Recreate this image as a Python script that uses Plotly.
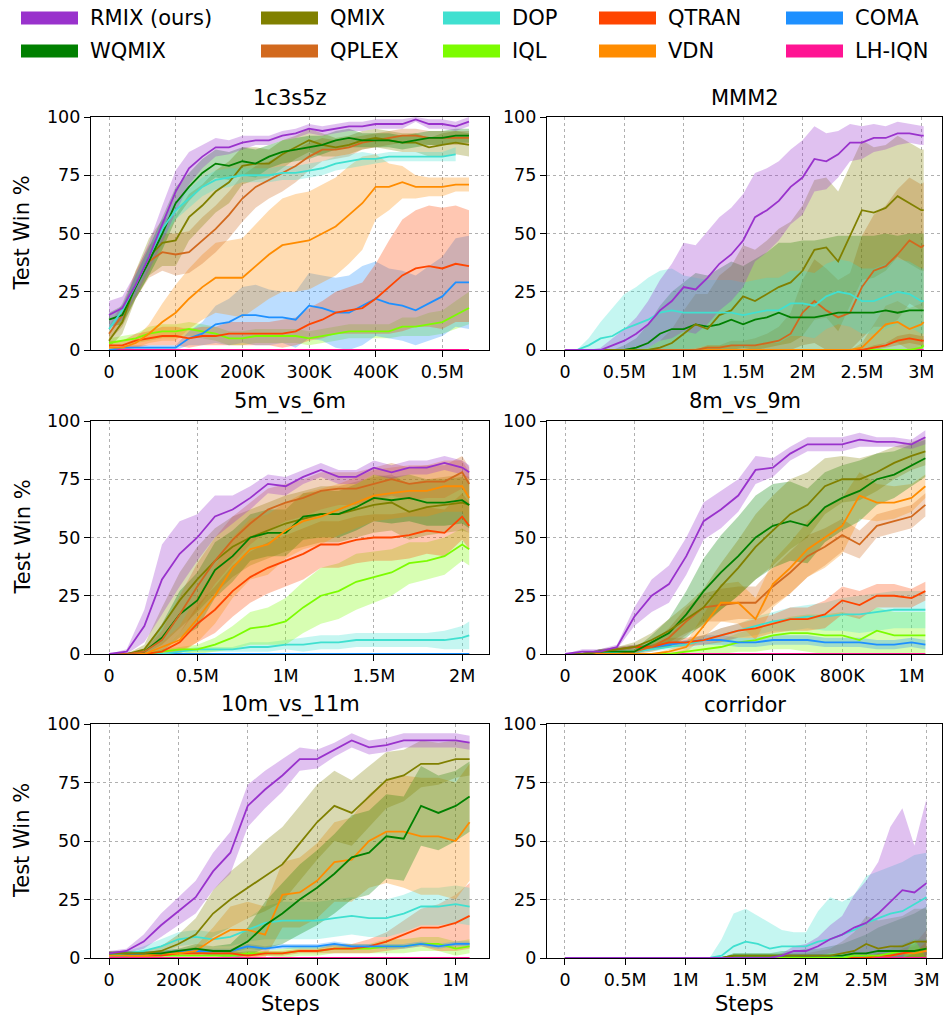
import plotly.graph_objects as go

W, H = 943, 1020
FONT = "DejaVu Sans"

METHODS = ["RMIX (ours)", "WQMIX", "QMIX", "QPLEX", "DOP", "IQL", "QTRAN", "VDN", "COMA", "LH-IQN"]
COLORS = ["#9932CC", "#008000", "#808000", "#D2691E", "#40E0D0", "#7CFC00", "#FF4500", "#FF8C00", "#1E90FF", "#FF1493"]

TITLES = ["1c3s5z", "MMM2", "5m_vs_6m", "8m_vs_9m", "10m_vs_11m", "corridor"]

# ---------------- 1c3s5z (steps in thousands) ----------------
X_1C3S5Z = [0, 20, 40, 60, 80, 100, 120, 140, 160, 180, 200, 220, 240, 260, 280, 300, 320, 340, 360, 380, 400, 420, 440, 460, 480, 500, 520, 540]
RMIX_1C3S5Z = [15, 18, 28, 40, 54, 68, 78, 83, 87, 87, 89, 90, 90, 92, 93, 95, 94, 95, 96, 96, 97, 97, 97, 99, 97, 97, 96, 98]
RMIX_1C3S5Z_SD = [6, 5, 5, 6, 8, 9, 7, 5, 4, 3, 3, 2, 2, 2, 2, 2, 2, 2, 2, 2, 2, 2, 2, 1, 2, 2, 2, 2]
WQMIX_1C3S5Z = [13, 15, 27, 38, 50, 63, 70, 76, 80, 79, 81, 80, 83, 85, 86, 87, 88, 90, 91, 90, 90, 90, 89, 90, 91, 91, 92, 92]
WQMIX_1C3S5Z_SD = [3, 4, 5, 6, 7, 7, 6, 6, 6, 6, 6, 6, 5, 5, 5, 5, 4, 4, 4, 3, 3, 3, 3, 3, 3, 3, 3, 3]
QMIX_1C3S5Z = [4, 12, 28, 40, 46, 47, 57, 62, 68, 72, 79, 80, 80, 84, 87, 90, 88, 87, 88, 90, 91, 90, 89, 89, 87, 88, 89, 88]
QMIX_1C3S5Z_SD = [3, 5, 6, 8, 10, 11, 10, 9, 9, 9, 8, 7, 6, 6, 5, 5, 5, 4, 4, 4, 4, 4, 4, 4, 4, 5, 5, 5]
QPLEX_1C3S5Z = [7, 15, 28, 38, 42, 41, 42, 47, 52, 58, 65, 70, 73, 76, 79, 83, 86, 86, 87, 89, 90, 91, 92, 92, 91, 91, 91, 91]
QPLEX_1C3S5Z_SD = [3, 5, 6, 7, 8, 9, 9, 10, 10, 10, 10, 9, 8, 8, 7, 6, 5, 4, 4, 3, 3, 3, 3, 3, 3, 3, 3, 3]
DOP_1C3S5Z = [9, 17, 28, 40, 52, 60, 65, 70, 73, 74, 75, 75, 75, 76, 76, 77, 78, 80, 81, 82, 82, 83, 83, 83, 83, 83, 84]
DOP_1C3S5Z_SD = [2, 3, 4, 4, 4, 4, 4, 4, 4, 4, 3, 3, 3, 3, 3, 3, 3, 3, 3, 3, 2, 2, 2, 2, 2, 2, 3]
IQL_1C3S5Z = [3, 4, 5, 7, 8, 8, 9, 8, 7, 5, 5, 6, 6, 6, 6, 5, 6, 7, 8, 8, 8, 8, 10, 10, 11, 12, 15, 18]
IQL_1C3S5Z_SD = [2, 2, 2, 3, 3, 3, 3, 3, 3, 3, 3, 3, 3, 3, 3, 3, 3, 3, 3, 3, 3, 3, 4, 4, 5, 5, 6, 7]
QTRAN_1C3S5Z = [2, 2, 4, 5, 6, 6, 5, 6, 6, 7, 7, 7, 7, 7, 8, 11, 13, 16, 17, 18, 22, 27, 32, 35, 36, 35, 37, 36]
QTRAN_1C3S5Z_SD = [2, 2, 3, 3, 4, 4, 4, 4, 4, 5, 5, 5, 5, 6, 6, 7, 8, 9, 10, 11, 15, 20, 24, 25, 26, 26, 25, 24]
VDN_1C3S5Z = [1, 1, 3, 7, 12, 16, 22, 27, 31, 31, 31, 36, 41, 45, 46, 47, 50, 53, 58, 63, 70, 70, 72, 70, 70, 70, 71, 71]
VDN_1C3S5Z_SD = [1, 1, 2, 4, 8, 12, 13, 14, 15, 16, 17, 18, 19, 20, 21, 21, 21, 21, 21, 20, 14, 10, 7, 5, 4, 4, 3, 3]
COMA_1C3S5Z = [0, 1, 1, 1, 1, 1, 5, 7, 11, 12, 15, 15, 14, 14, 13, 19, 18, 16, 16, 19, 22, 20, 19, 17, 20, 23, 29, 29]
COMA_1C3S5Z_SD = [0, 1, 1, 1, 1, 1, 3, 5, 8, 10, 12, 13, 12, 11, 12, 14, 14, 15, 16, 17, 16, 15, 15, 15, 16, 17, 19, 20]
LHIQN_1C3S5Z = [0, 0, 0, 0, 0, 0, 0, 0, 0, 0, 0, 0, 0, 0, 0, 0, 0, 0, 0, 0, 0, 0, 0, 0, 0, 0, 0, 0]
LHIQN_1C3S5Z_SD = [0, 0, 0, 0, 0, 0, 0, 0, 0, 0, 0, 0, 0, 0, 0, 0, 0, 0, 0, 0, 0, 0, 0, 0, 0, 0, 0, 0]

# ---------------- MMM2 ----------------
X_MMM2 = [0, 100, 200, 300, 400, 500, 600, 700, 800, 900, 1000, 1100, 1200, 1300, 1400, 1500, 1600, 1700, 1800, 1900, 2000, 2100, 2200, 2300, 2400, 2500, 2600, 2700, 2800, 2900, 3000, 3020]
RMIX_MMM2 = [0, 0, 0, 0, 2, 4, 7, 11, 17, 21, 27, 26, 31, 37, 41, 47, 57, 60, 64, 70, 74, 82, 81, 84, 89, 89, 91, 91, 93, 93, 92, 92]
RMIX_MMM2_SD = [0, 0, 0, 1, 3, 5, 7, 10, 13, 16, 19, 19, 20, 20, 20, 20, 19, 18, 17, 16, 16, 14, 12, 10, 8, 7, 6, 5, 5, 4, 4, 4]
WQMIX_MMM2 = [0, 0, 0, 0, 0, 0, 1, 3, 7, 9, 9, 11, 10, 11, 13, 11, 13, 14, 16, 14, 14, 14, 15, 16, 16, 16, 16, 17, 16, 17, 17, 17]
WQMIX_MMM2_SD = [0, 0, 0, 0, 0, 2, 4, 8, 12, 16, 20, 22, 22, 24, 25, 25, 26, 28, 30, 32, 33, 33, 33, 33, 33, 33, 33, 33, 33, 33, 33, 33]
QMIX_MMM2 = [0, 0, 0, 0, 0, 0, 0, 0, 1, 3, 7, 11, 9, 15, 17, 23, 21, 24, 27, 29, 34, 43, 44, 38, 49, 60, 59, 61, 66, 63, 60, 60]
QMIX_MMM2_SD = [0, 0, 0, 0, 0, 0, 0, 1, 3, 6, 10, 13, 15, 17, 19, 22, 22, 23, 25, 26, 28, 30, 30, 30, 30, 30, 28, 27, 26, 26, 26, 26]
QPLEX_MMM2 = [0, 0, 0, 0, 0, 0, 0, 0, 0, 0, 0, 0, 1, 1, 2, 2, 2, 3, 4, 7, 16, 21, 17, 14, 16, 27, 34, 36, 41, 47, 44, 45]
QPLEX_MMM2_SD = [0, 0, 0, 0, 0, 0, 0, 0, 0, 0, 0, 0, 1, 1, 2, 2, 3, 4, 6, 9, 14, 18, 18, 16, 17, 22, 24, 26, 28, 27, 27, 27]
DOP_MMM2 = [0, 0, 2, 5, 6, 9, 11, 13, 16, 17, 16, 16, 16, 16, 16, 15, 16, 17, 17, 20, 20, 19, 23, 25, 24, 21, 21, 23, 25, 24, 21, 21]
DOP_MMM2_SD = [0, 0, 3, 7, 12, 15, 16, 18, 18, 18, 16, 15, 14, 14, 14, 14, 14, 14, 14, 14, 14, 14, 14, 14, 14, 14, 14, 14, 14, 14, 14, 14]
IQL_MMM2 = [0, 0, 0, 0, 0, 0, 0, 0, 0, 0, 0, 0, 0, 0, 0, 0, 0, 0, 0, 0, 0, 0, 0, 0, 0, 0, 0, 0, 0, 0, 1, 2]
IQL_MMM2_SD = [0, 0, 0, 0, 0, 0, 0, 0, 0, 0, 0, 0, 0, 0, 0, 0, 0, 0, 0, 0, 0, 0, 0, 0, 0, 0, 0, 0, 0, 0, 1, 1]
QTRAN_MMM2 = [0, 0, 0, 0, 0, 0, 0, 0, 0, 0, 0, 0, 0, 0, 0, 0, 0, 0, 0, 0, 0, 0, 0, 0, 0, 0, 1, 2, 4, 5, 4, 4]
QTRAN_MMM2_SD = [0, 0, 0, 0, 0, 0, 0, 0, 0, 0, 0, 0, 0, 0, 0, 0, 0, 0, 0, 0, 0, 0, 0, 0, 0, 0, 1, 1, 2, 2, 2, 2]
VDN_MMM2 = [0, 0, 0, 0, 0, 0, 0, 0, 0, 0, 0, 0, 0, 0, 0, 0, 0, 0, 0, 0, 0, 0, 0, 0, 0, 1, 6, 11, 12, 9, 11, 12]
VDN_MMM2_SD = [0, 0, 0, 0, 0, 0, 0, 0, 0, 0, 0, 0, 0, 0, 0, 0, 0, 0, 0, 0, 0, 0, 0, 0, 0, 2, 5, 8, 9, 9, 9, 9]
LHIQN_MMM2 = [0, 0, 0, 0, 0, 0, 0, 0, 0, 0, 0, 0, 0, 0, 0, 0, 0, 0, 0, 0, 0, 0, 0, 0, 0, 0, 0, 0, 0, 0, 0, 0]
LHIQN_MMM2_SD = [0, 0, 0, 0, 0, 0, 0, 0, 0, 0, 0, 0, 0, 0, 0, 0, 0, 0, 0, 0, 0, 0, 0, 0, 0, 0, 0, 0, 0, 0, 0, 0]

# ---------------- 5m_vs_6m ----------------
X_5M6M = [0, 100, 200, 300, 400, 500, 600, 700, 800, 900, 1000, 1100, 1200, 1300, 1400, 1500, 1600, 1700, 1800, 1900, 2000, 2040]
RMIX_5M6M = [0, 1, 12, 32, 43, 50, 59, 62, 67, 73, 72, 76, 79, 76, 76, 80, 78, 80, 80, 82, 80, 78]
RMIX_5M6M_SD = [0, 1, 7, 15, 14, 10, 9, 6, 5, 4, 4, 3, 3, 3, 3, 3, 3, 3, 3, 3, 3, 3]
WQMIX_5M6M = [0, 0, 1, 7, 17, 23, 36, 42, 50, 52, 52, 59, 60, 60, 63, 67, 66, 67, 65, 65, 66, 64]
WQMIX_5M6M_SD = [0, 0, 1, 6, 10, 12, 12, 11, 10, 10, 10, 10, 10, 10, 10, 10, 10, 10, 10, 10, 10, 10]
QMIX_5M6M = [0, 0, 2, 12, 23, 32, 40, 46, 50, 53, 56, 58, 60, 60, 62, 64, 65, 61, 63, 64, 65, 64]
QMIX_5M6M_SD = [0, 0, 2, 8, 12, 14, 14, 13, 12, 12, 12, 12, 12, 12, 12, 12, 12, 12, 12, 12, 12, 12]
QPLEX_5M6M = [0, 0, 1, 6, 17, 29, 40, 49, 56, 62, 65, 67, 70, 71, 71, 73, 75, 73, 74, 74, 78, 73]
QPLEX_5M6M_SD = [0, 0, 1, 4, 8, 10, 10, 10, 9, 9, 8, 8, 8, 7, 7, 7, 7, 7, 7, 7, 7, 7]
DOP_5M6M = [0, 0, 0, 0, 1, 2, 2, 2, 3, 3, 4, 4, 5, 5, 6, 6, 6, 6, 6, 6, 7, 8]
DOP_5M6M_SD = [0, 0, 0, 0, 1, 1, 1, 1, 2, 2, 2, 3, 3, 3, 3, 3, 3, 3, 3, 4, 5, 6]
IQL_5M6M = [0, 0, 0, 1, 2, 2, 4, 7, 11, 12, 14, 20, 25, 27, 31, 33, 35, 39, 40, 42, 47, 45]
IQL_5M6M_SD = [0, 0, 0, 1, 1, 2, 3, 5, 7, 8, 10, 11, 12, 12, 12, 11, 10, 9, 8, 8, 7, 7]
QTRAN_5M6M = [0, 0, 0, 1, 5, 13, 19, 27, 33, 37, 40, 43, 47, 47, 49, 50, 50, 51, 53, 52, 59, 55]
QTRAN_5M6M_SD = [0, 0, 0, 1, 4, 8, 10, 11, 11, 11, 11, 11, 10, 10, 10, 10, 10, 10, 10, 10, 10, 10]
VDN_5M6M = [0, 0, 0, 3, 6, 15, 25, 37, 45, 47, 53, 57, 59, 62, 65, 68, 69, 70, 70, 72, 72, 67]
VDN_5M6M_SD = [0, 0, 0, 2, 6, 10, 12, 13, 13, 13, 12, 12, 12, 11, 11, 11, 11, 11, 11, 11, 11, 11]
COMA_5M6M = [0, 0, 0, 0, 0, 0, 0, 0, 0, 0, 0, 0, 0, 0, 0, 0, 0, 0, 0, 0, 0, 0]
COMA_5M6M_SD = [0, 0, 0, 0, 0, 0, 0, 0, 0, 0, 0, 0, 0, 0, 0, 0, 0, 0, 0, 0, 0, 0]
LHIQN_5M6M = [0, 0, 0, 0, 0, 0, 0, 0, 0, 0, 0, 0, 0, 0, 0, 0, 0, 0, 0, 0, 0, 0]
LHIQN_5M6M_SD = [0, 0, 0, 0, 0, 0, 0, 0, 0, 0, 0, 0, 0, 0, 0, 0, 0, 0, 0, 0, 0, 0]

# ---------------- 8m_vs_9m ----------------
X_8M9M = [0, 50, 100, 150, 200, 250, 300, 350, 400, 450, 500, 550, 600, 650, 700, 750, 800, 850, 900, 950, 1000, 1040]
RMIX_8M9M = [0, 1, 1, 3, 16, 25, 30, 42, 57, 62, 68, 79, 80, 86, 90, 90, 90, 92, 91, 91, 90, 93]
RMIX_8M9M_SD = [0, 1, 1, 1, 4, 7, 8, 8, 8, 8, 7, 6, 4, 3, 3, 3, 3, 3, 2, 2, 2, 3]
WQMIX_8M9M = [0, 0, 1, 1, 1, 5, 9, 17, 27, 35, 42, 50, 55, 57, 55, 63, 67, 70, 75, 77, 81, 84]
WQMIX_8M9M_SD = [0, 0, 1, 1, 1, 3, 6, 10, 14, 16, 17, 18, 18, 17, 16, 15, 14, 13, 11, 10, 9, 8]
QMIX_8M9M = [0, 0, 1, 2, 3, 6, 10, 15, 20, 29, 37, 46, 53, 60, 64, 72, 75, 75, 78, 82, 85, 87]
QMIX_8M9M_SD = [0, 0, 1, 1, 2, 3, 5, 6, 8, 10, 12, 14, 15, 15, 14, 12, 10, 9, 8, 7, 6, 6]
QPLEX_8M9M = [0, 0, 0, 0, 1, 3, 7, 14, 20, 21, 22, 22, 29, 35, 42, 46, 51, 47, 55, 57, 59, 64]
QPLEX_8M9M_SD = [0, 0, 0, 0, 1, 2, 4, 6, 6, 7, 7, 7, 8, 9, 9, 8, 7, 6, 5, 5, 5, 5]
DOP_8M9M = [0, 0, 0, 1, 1, 2, 3, 4, 6, 8, 10, 12, 14, 15, 16, 16, 17, 17, 18, 19, 19, 19]
DOP_8M9M_SD = [0, 0, 0, 1, 1, 1, 1, 2, 2, 3, 3, 4, 4, 5, 5, 6, 7, 8, 8, 8, 8, 8]
IQL_8M9M = [0, 0, 0, 0, 0, 0, 0, 1, 2, 3, 5, 6, 8, 9, 9, 8, 8, 6, 10, 8, 8, 8]
IQL_8M9M_SD = [0, 0, 0, 0, 0, 0, 0, 1, 2, 3, 4, 5, 6, 7, 8, 9, 10, 10, 10, 10, 10, 10]
QTRAN_8M9M = [0, 0, 1, 2, 3, 3, 5, 5, 6, 8, 10, 11, 13, 15, 15, 17, 23, 21, 25, 25, 24, 27]
QTRAN_8M9M_SD = [0, 0, 1, 1, 1, 1, 2, 2, 2, 3, 3, 4, 4, 5, 5, 6, 6, 6, 5, 5, 4, 4]
VDN_8M9M = [0, 0, 0, 0, 0, 0, 1, 3, 12, 22, 22, 15, 30, 37, 45, 50, 55, 68, 65, 65, 67, 72]
VDN_8M9M_SD = [0, 0, 0, 0, 0, 0, 1, 2, 5, 8, 9, 9, 10, 11, 12, 13, 12, 10, 8, 7, 6, 5]
COMA_8M9M = [0, 0, 1, 2, 3, 3, 4, 5, 6, 6, 5, 5, 6, 6, 6, 5, 5, 5, 4, 4, 5, 4]
COMA_8M9M_SD = [0, 0, 1, 1, 1, 1, 1, 1, 2, 2, 2, 2, 2, 2, 2, 2, 2, 2, 2, 2, 2, 2]
LHIQN_8M9M = [0, 0, 0, 0, 0, 0, 0, 0, 0, 0, 0, 0, 0, 0, 0, 0, 0, 0, 0, 0, 0, 0]
LHIQN_8M9M_SD = [0, 0, 0, 0, 0, 0, 0, 0, 0, 0, 0, 0, 0, 0, 0, 0, 0, 0, 0, 0, 0, 0]

# ---------------- 10m_vs_11m ----------------
X_10M11M = [0, 50, 100, 150, 200, 250, 300, 350, 400, 450, 500, 550, 600, 650, 700, 750, 800, 850, 900, 950, 1000, 1040]
RMIX_10M11M = [2, 3, 7, 14, 20, 26, 37, 45, 65, 72, 78, 85, 85, 89, 93, 90, 91, 93, 93, 93, 93, 92]
RMIX_10M11M_SD = [1, 1, 3, 5, 6, 7, 8, 9, 9, 8, 7, 5, 4, 3, 3, 3, 3, 3, 3, 3, 3, 3]
WQMIX_10M11M = [2, 2, 2, 2, 3, 4, 3, 3, 7, 14, 19, 25, 30, 36, 43, 45, 52, 51, 65, 62, 65, 69]
WQMIX_10M11M_SD = [1, 1, 1, 1, 1, 2, 2, 3, 6, 10, 13, 15, 16, 17, 18, 18, 18, 18, 17, 16, 15, 15]
QMIX_10M11M = [2, 2, 2, 3, 6, 10, 19, 25, 30, 35, 40, 49, 58, 65, 62, 69, 76, 78, 83, 83, 85, 85]
QMIX_10M11M_SD = [1, 1, 1, 2, 4, 7, 10, 12, 13, 15, 16, 16, 16, 15, 14, 13, 12, 11, 10, 9, 8, 7]
DOP_10M11M = [1, 2, 3, 5, 8, 9, 8, 9, 12, 15, 16, 16, 16, 17, 18, 17, 17, 19, 22, 22, 23, 22]
DOP_10M11M_SD = [1, 1, 2, 3, 3, 3, 3, 4, 5, 7, 8, 8, 8, 8, 8, 8, 8, 8, 8, 8, 8, 8]
IQL_10M11M = [1, 1, 1, 1, 1, 1, 1, 1, 2, 2, 2, 3, 3, 4, 4, 4, 5, 5, 6, 6, 4, 5]
IQL_10M11M_SD = [1, 1, 1, 1, 1, 1, 1, 1, 1, 1, 2, 2, 2, 2, 2, 2, 3, 3, 3, 3, 3, 3]
QTRAN_10M11M = [1, 1, 1, 1, 2, 2, 2, 2, 1, 2, 2, 3, 3, 4, 4, 5, 7, 10, 13, 13, 15, 18]
QTRAN_10M11M_SD = [0, 0, 0, 0, 1, 1, 1, 1, 1, 1, 1, 1, 1, 2, 2, 3, 4, 6, 8, 10, 12, 14]
VDN_10M11M = [1, 1, 1, 2, 2, 3, 8, 12, 12, 10, 27, 28, 33, 41, 42, 50, 54, 54, 52, 52, 50, 58]
VDN_10M11M_SD = [0, 0, 1, 1, 1, 2, 5, 10, 12, 12, 14, 15, 16, 17, 18, 20, 22, 24, 25, 25, 25, 25]
COMA_10M11M = [1, 1, 2, 2, 3, 3, 3, 3, 5, 4, 5, 5, 5, 6, 5, 5, 5, 5, 6, 5, 6, 6]
COMA_10M11M_SD = [1, 1, 1, 1, 1, 1, 1, 1, 1, 1, 1, 1, 1, 1, 1, 1, 1, 1, 1, 1, 1, 1]
LHIQN_10M11M = [0, 0, 0, 0, 0, 0, 0, 0, 0, 0, 0, 0, 0, 0, 0, 0, 0, 0, 0, 0, 0, 0]
LHIQN_10M11M_SD = [0, 0, 0, 0, 0, 0, 0, 0, 0, 0, 0, 0, 0, 0, 0, 0, 0, 0, 0, 0, 0, 0]

# ---------------- corridor ----------------
X_CORRIDOR = [0, 100, 200, 300, 400, 500, 600, 700, 800, 900, 1000, 1100, 1200, 1300, 1400, 1500, 1600, 1700, 1800, 1900, 2000, 2100, 2200, 2300, 2400, 2500, 2600, 2700, 2800, 2900, 3000]
RMIX_CORRIDOR = [0, 0, 0, 0, 0, 0, 0, 0, 0, 0, 0, 0, 0, 0, 0, 0, 0, 0, 1, 3, 3, 5, 8, 10, 13, 15, 19, 24, 29, 28, 32]
RMIX_CORRIDOR_SD = [0, 0, 0, 0, 0, 0, 0, 0, 0, 0, 0, 0, 0, 0, 0, 0, 0, 0, 1, 2, 3, 4, 6, 8, 14, 18, 22, 32, 35, 20, 36]
WQMIX_CORRIDOR = [0, 0, 0, 0, 0, 0, 0, 0, 0, 0, 0, 0, 0, 0, 1, 1, 1, 1, 1, 1, 1, 1, 1, 1, 2, 2, 3, 3, 3, 3, 4]
WQMIX_CORRIDOR_SD = [0, 0, 0, 0, 0, 0, 0, 0, 0, 0, 0, 0, 0, 0, 1, 1, 1, 1, 2, 2, 3, 3, 4, 5, 6, 8, 10, 12, 14, 16, 18]
QMIX_CORRIDOR = [0, 0, 0, 0, 0, 0, 0, 0, 0, 0, 0, 0, 0, 0, 1, 1, 1, 1, 1, 1, 1, 1, 1, 2, 3, 6, 4, 5, 5, 7, 7]
QMIX_CORRIDOR_SD = [0, 0, 0, 0, 0, 0, 0, 0, 0, 0, 0, 0, 0, 0, 1, 1, 1, 1, 1, 1, 1, 2, 3, 5, 8, 12, 12, 12, 13, 14, 14]
DOP_CORRIDOR = [0, 0, 0, 0, 0, 0, 0, 0, 0, 0, 0, 0, 0, 1, 5, 7, 6, 4, 5, 5, 5, 7, 8, 10, 12, 15, 17, 19, 20, 23, 26]
DOP_CORRIDOR_SD = [0, 0, 0, 0, 0, 0, 0, 0, 0, 0, 0, 0, 0, 7, 14, 14, 12, 11, 7, 6, 6, 13, 18, 14, 15, 20, 20, 20, 21, 21, 19]
IQL_CORRIDOR = [0, 0, 0, 0, 0, 0, 0, 0, 0, 0, 0, 0, 0, 0, 0, 0, 0, 0, 0, 0, 0, 0, 0, 0, 1, 1, 1, 2, 3, 3, 4]
IQL_CORRIDOR_SD = [0, 0, 0, 0, 0, 0, 0, 0, 0, 0, 0, 0, 0, 0, 0, 0, 0, 0, 0, 0, 0, 0, 0, 0, 1, 1, 2, 2, 3, 5, 4]
QTRAN_CORRIDOR = [0, 0, 0, 0, 0, 0, 0, 0, 0, 0, 0, 0, 0, 0, 0, 0, 0, 0, 0, 0, 0, 0, 0, 0, 0, 0, 1, 1, 2, 3, 4]
QTRAN_CORRIDOR_SD = [0, 0, 0, 0, 0, 0, 0, 0, 0, 0, 0, 0, 0, 0, 0, 0, 0, 0, 0, 0, 0, 0, 0, 0, 0, 0, 1, 1, 2, 3, 8]
VDN_CORRIDOR = [0, 0, 0, 0, 0, 0, 0, 0, 0, 0, 0, 0, 0, 0, 0, 0, 0, 0, 0, 0, 0, 0, 0, 0, 0, 0, 1, 1, 2, 2, 3]
VDN_CORRIDOR_SD = [0, 0, 0, 0, 0, 0, 0, 0, 0, 0, 0, 0, 0, 0, 0, 0, 0, 0, 0, 0, 0, 0, 0, 0, 0, 0, 1, 1, 2, 3, 5]
LHIQN_CORRIDOR = [0, 0, 0, 0, 0, 0, 0, 0, 0, 0, 0, 0, 0, 0, 0, 0, 0, 0, 0, 0, 0, 0, 0, 0, 0, 0, 0, 0, 0, 0, 0]
LHIQN_CORRIDOR_SD = [0, 0, 0, 0, 0, 0, 0, 0, 0, 0, 0, 0, 0, 0, 0, 0, 0, 0, 0, 0, 0, 0, 0, 0, 0, 0, 0, 0, 0, 0, 0]

# ---------------- ticks ----------------
TICKS_1C3S5Z = [0, 100, 200, 300, 400, 500]
TICKTEXT_1C3S5Z = ["0", "100K", "200K", "300K", "400K", "0.5M"]
TICKS_3M = [0, 500, 1000, 1500, 2000, 2500, 3000]
TICKTEXT_3M = ["0", "0.5M", "1M", "1.5M", "2M", "2.5M", "3M"]
TICKS_2M = [0, 500, 1000, 1500, 2000]
TICKTEXT_2M = ["0", "0.5M", "1M", "1.5M", "2M"]
TICKS_1M = [0, 200, 400, 600, 800, 1000]
TICKTEXT_1M = ["0", "200K", "400K", "600K", "800K", "1M"]
Y_TICKS = [0, 25, 50, 75, 100]

# ---------------- assemble ----------------
PANELS = [
    dict(x=X_1C3S5Z, rng=[-27, 570], tv=TICKS_1C3S5Z, tt=TICKTEXT_1C3S5Z,
         s={"LH-IQN": (LHIQN_1C3S5Z, LHIQN_1C3S5Z_SD),
            "IQL": (IQL_1C3S5Z, IQL_1C3S5Z_SD), "COMA": (COMA_1C3S5Z, COMA_1C3S5Z_SD),
            "QTRAN": (QTRAN_1C3S5Z, QTRAN_1C3S5Z_SD), "VDN": (VDN_1C3S5Z, VDN_1C3S5Z_SD),
            "QPLEX": (QPLEX_1C3S5Z, QPLEX_1C3S5Z_SD), "QMIX": (QMIX_1C3S5Z, QMIX_1C3S5Z_SD),
            "WQMIX": (WQMIX_1C3S5Z, WQMIX_1C3S5Z_SD), "DOP": (DOP_1C3S5Z, DOP_1C3S5Z_SD),
            "RMIX (ours)": (RMIX_1C3S5Z, RMIX_1C3S5Z_SD)}),
    dict(x=X_MMM2, rng=[-151, 3174], tv=TICKS_3M, tt=TICKTEXT_3M,
         s={"LH-IQN": (LHIQN_MMM2, LHIQN_MMM2_SD),
            "IQL": (IQL_MMM2, IQL_MMM2_SD), "QTRAN": (QTRAN_MMM2, QTRAN_MMM2_SD),
            "VDN": (VDN_MMM2, VDN_MMM2_SD), "QPLEX": (QPLEX_MMM2, QPLEX_MMM2_SD),
            "WQMIX": (WQMIX_MMM2, WQMIX_MMM2_SD), "QMIX": (QMIX_MMM2, QMIX_MMM2_SD),
            "DOP": (DOP_MMM2, DOP_MMM2_SD), "RMIX (ours)": (RMIX_MMM2, RMIX_MMM2_SD)}),
    dict(x=X_5M6M, rng=[-102, 2152], tv=TICKS_2M, tt=TICKTEXT_2M,
         s={"LH-IQN": (LHIQN_5M6M, LHIQN_5M6M_SD), "COMA": (COMA_5M6M, COMA_5M6M_SD),
            "DOP": (DOP_5M6M, DOP_5M6M_SD), "IQL": (IQL_5M6M, IQL_5M6M_SD),
            "QTRAN": (QTRAN_5M6M, QTRAN_5M6M_SD), "QMIX": (QMIX_5M6M, QMIX_5M6M_SD),
            "WQMIX": (WQMIX_5M6M, WQMIX_5M6M_SD), "VDN": (VDN_5M6M, VDN_5M6M_SD),
            "QPLEX": (QPLEX_5M6M, QPLEX_5M6M_SD), "RMIX (ours)": (RMIX_5M6M, RMIX_5M6M_SD)}),
    dict(x=X_8M9M, rng=[-52, 1088], tv=TICKS_1M, tt=TICKTEXT_1M,
         s={"LH-IQN": (LHIQN_8M9M, LHIQN_8M9M_SD),
            "IQL": (IQL_8M9M, IQL_8M9M_SD), "COMA": (COMA_8M9M, COMA_8M9M_SD),
            "DOP": (DOP_8M9M, DOP_8M9M_SD), "QTRAN": (QTRAN_8M9M, QTRAN_8M9M_SD),
            "QPLEX": (QPLEX_8M9M, QPLEX_8M9M_SD), "VDN": (VDN_8M9M, VDN_8M9M_SD),
            "WQMIX": (WQMIX_8M9M, WQMIX_8M9M_SD), "QMIX": (QMIX_8M9M, QMIX_8M9M_SD),
            "RMIX (ours)": (RMIX_8M9M, RMIX_8M9M_SD)}),
    dict(x=X_10M11M, rng=[-52, 1096], tv=TICKS_1M, tt=TICKTEXT_1M,
         s={"LH-IQN": (LHIQN_10M11M, LHIQN_10M11M_SD),
            "IQL": (IQL_10M11M, IQL_10M11M_SD), "QTRAN": (QTRAN_10M11M, QTRAN_10M11M_SD),
            "COMA": (COMA_10M11M, COMA_10M11M_SD), "DOP": (DOP_10M11M, DOP_10M11M_SD),
            "VDN": (VDN_10M11M, VDN_10M11M_SD), "WQMIX": (WQMIX_10M11M, WQMIX_10M11M_SD),
            "QMIX": (QMIX_10M11M, QMIX_10M11M_SD), "RMIX (ours)": (RMIX_10M11M, RMIX_10M11M_SD)}),
    dict(x=X_CORRIDOR, rng=[-149, 3129], tv=TICKS_3M, tt=TICKTEXT_3M,
         s={"LH-IQN": (LHIQN_CORRIDOR, LHIQN_CORRIDOR_SD),
            "VDN": (VDN_CORRIDOR, VDN_CORRIDOR_SD), "QTRAN": (QTRAN_CORRIDOR, QTRAN_CORRIDOR_SD),
            "IQL": (IQL_CORRIDOR, IQL_CORRIDOR_SD), "WQMIX": (WQMIX_CORRIDOR, WQMIX_CORRIDOR_SD),
            "QMIX": (QMIX_CORRIDOR, QMIX_CORRIDOR_SD), "DOP": (DOP_CORRIDOR, DOP_CORRIDOR_SD),
            "RMIX (ours)": (RMIX_CORRIDOR, RMIX_CORRIDOR_SD)}),
]

COLX = [(91, 489), (547, 942)]
ROWY = [(117, 350), (421, 654), (724, 958)]


def px_x(p):
    return p / W


def px_y(p):
    return 1 - p / H


def rgba(hexc, a):
    h = hexc.lstrip("#")
    return "rgba(%d,%d,%d,%s)" % (int(h[0:2], 16), int(h[2:4], 16), int(h[4:6], 16), a)


color_of = dict(zip(METHODS, COLORS))
fig = go.Figure()
layout = {}
annotations = []
shapes = []

for i, p in enumerate(PANELS):
    sfx = "" if i == 0 else str(i + 1)
    xa, ya = "x" + sfx, "y" + sfx
    r, c = divmod(i, 2)
    x0, x1 = COLX[c]
    y0, y1 = ROWY[r]
    # bands
    for name, (m, e) in p["s"].items():
        if max(e) == 0:
            continue
        xs = p["x"][:len(m)]
        hi = [min(100, a + b) for a, b in zip(m, e)]
        lo = [max(0, a - b) for a, b in zip(m, e)]
        fig.add_trace(go.Scatter(x=list(xs) + list(xs)[::-1], y=hi + lo[::-1], fill="toself",
                                 fillcolor=rgba(color_of[name], 0.3), line=dict(width=0),
                                 mode="lines", hoverinfo="skip", showlegend=False,
                                 xaxis=xa, yaxis=ya))
    # lines
    for name, (m, e) in p["s"].items():
        xs = p["x"][:len(m)]
        fig.add_trace(go.Scatter(x=xs, y=m, mode="lines", line=dict(color=color_of[name], width=1.8),
                                 showlegend=False, hoverinfo="skip", xaxis=xa, yaxis=ya))
    common = dict(showline=True, linecolor="black", linewidth=1.3, mirror=True,
                  ticks="outside", ticklen=6, tickwidth=1.3, tickcolor="black",
                  showgrid=True, gridcolor="#b0b0b0", griddash="dot", gridwidth=1,
                  zeroline=False, automargin=False,
                  tickfont=dict(family=FONT, size=17.5, color="black"))
    layout["xaxis" + sfx] = dict(common, domain=[px_x(x0), px_x(x1)], anchor=ya, range=p["rng"],
                                 tickmode="array", tickvals=p["tv"], ticktext=p["tt"])
    layout["yaxis" + sfx] = dict(common, domain=[px_y(y1), px_y(y0)], anchor=xa, range=[0, 100],
                                 tickmode="array", tickvals=Y_TICKS, ticktext=[str(v) for v in Y_TICKS])
    annotations.append(dict(text=TITLES[i], x=px_x((x0 + x1) / 2), y=px_y(y0), xref="paper", yref="paper",
                            xanchor="center", yanchor="bottom", yshift=5, showarrow=False,
                            font=dict(family=FONT, size=21, color="black")))
    if c == 0:
        annotations.append(dict(text="Test Win %", x=px_x(22), y=px_y((y0 + y1) / 2), xref="paper", yref="paper",
                                xanchor="center", yanchor="middle", textangle=-90, showarrow=False,
                                font=dict(family=FONT, size=21, color="black")))
    if r == 2:
        annotations.append(dict(text="Steps", x=px_x((x0 + x1) / 2), y=px_y(1004), xref="paper", yref="paper",
                                xanchor="center", yanchor="middle", showarrow=False,
                                font=dict(family=FONT, size=21, color="black")))

# legend (5 columns x 2 rows, column-major order)
LEG_X = [21, 261, 443, 599, 786]
LEG_Y = [18, 51]
for k, name in enumerate(METHODS):
    col, row = divmod(k, 2)
    lx, ly = LEG_X[col], LEG_Y[row]
    shapes.append(dict(type="rect", xref="paper", yref="paper",
                       x0=px_x(lx), x1=px_x(lx + 57), y0=px_y(ly + 6.5), y1=px_y(ly - 6.5),
                       fillcolor=color_of[name], line=dict(width=0)))
    annotations.append(dict(text=name, x=px_x(lx + 67), y=px_y(ly), xref="paper", yref="paper",
                            xanchor="left", yanchor="middle", showarrow=False,
                            font=dict(family=FONT, size=21, color="black")))

fig.update_layout(**layout)
fig.update_layout(width=W, height=H, margin=dict(l=0, r=0, t=0, b=0, pad=0, autoexpand=False),
                  plot_bgcolor="white", paper_bgcolor="white", showlegend=False,
                  annotations=annotations, shapes=shapes,
                  font=dict(family=FONT, color="black"))

fig.write_html("out.html", config={"displayModeBar": False},
               post_script="document.body.style.margin='0px';")
